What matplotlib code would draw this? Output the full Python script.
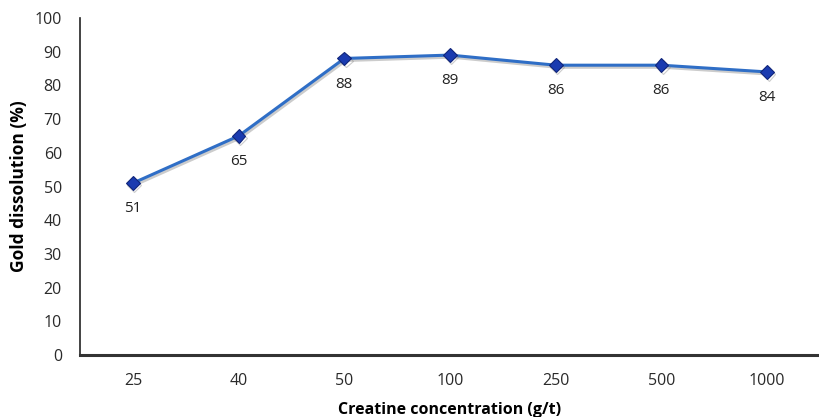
import matplotlib
matplotlib.use("Agg")
import matplotlib.pyplot as plt
import matplotlib.patheffects as pe

categories = ["25", "40", "50", "100", "250", "500", "1000"]
values = [51, 65, 88, 89, 86, 86, 84]

plt.rcParams['font.family'] = ['Open Sans', 'DejaVu Sans']

fig = plt.figure(figsize=(8.2, 4.17), dpi=100)
ax = fig.add_axes([0.0976, 0.1487, 0.9024, 0.8081])

x = list(range(len(categories)))
ax.plot(x, values, color='#2F6EC6', lw=2.2, marker='D', markersize=7,
        markerfacecolor='#1A3BB0', markeredgecolor='#10257A', markeredgewidth=0.8,
        path_effects=[pe.SimpleLineShadow(offset=(1, -1.5), shadow_color='gray', alpha=0.4), pe.Normal()],
        zorder=3)
for xi, v in zip(x, values):
    ax.annotate(str(v), (xi, v), xytext=(0, -13), textcoords='offset points',
                ha='center', va='top', fontsize=11, color='#222222')

ax.set_xlim(-0.5, len(categories) - 0.5)
ax.set_ylim(0, 100)
ax.set_yticks(range(0, 101, 10))
ax.set_xticks(x)
ax.set_xticklabels(categories)
ax.tick_params(axis='both', length=0, labelsize=11.5, colors='#2a2a2a')
ax.tick_params(axis='x', pad=13)
ax.tick_params(axis='y', pad=13)
for s in ['top', 'right']:
    ax.spines[s].set_visible(False)
ax.spines['left'].set_color('#222222')
ax.spines['bottom'].set_color('#333333')
ax.spines['left'].set_linewidth(1.2)
ax.spines['bottom'].set_linewidth(2.2)
ax.set_xlabel("Creatine concentration (g/t)", fontsize=11.5, fontweight='bold', labelpad=9)
ax.set_ylabel("Gold dissolution (%)", fontsize=12.5, fontweight='bold', labelpad=5)

fig.savefig("out.png", dpi=100)
